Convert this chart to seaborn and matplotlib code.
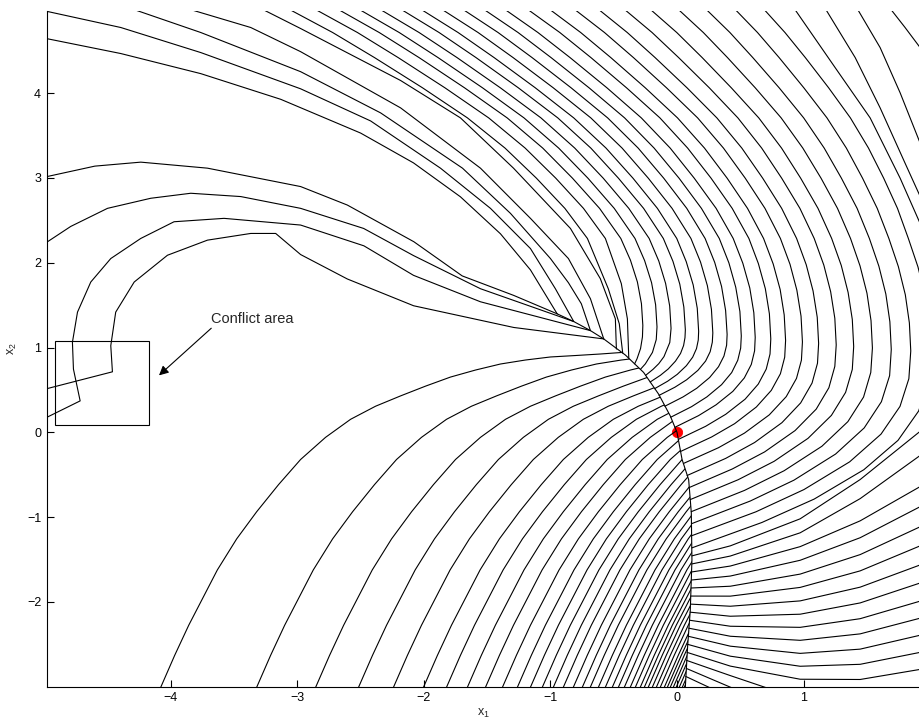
import numpy as np
import pandas as pd
import matplotlib
matplotlib.use("Agg")
import matplotlib.pyplot as plt
import seaborn as sns
from matplotlib.patches import Polygon, Rectangle

sns.set_theme(style="white")
plt.rcParams["font.family"] = ["Liberation Sans", "DejaVu Sans"]
plt.rcParams["mathtext.default"] = "regular"

# ---- values, in (x1, x2) units ----

# switching curve through the origin
switch_x = [-0.947, -0.816, -0.684, -0.579, -0.408, -0.264, -0.145, -0.053, 0.0,
            0.04, 0.092, 0.113, 0.118, 0.105, 0.084, 0.066]
switch_y = [1.398, 1.307, 1.200, 1.102, 0.912, 0.707, 0.450, 0.193, 0.0,
            -0.32, -0.557, -0.948, -1.505, -2.097, -2.52, -3.0]

# outermost lower-left trajectory; the others are the same curve moved along x1
left_template_x = [-4.079, -3.969, -3.858, -3.632, -3.479, -3.321, -3.148, -2.974,
                   -2.777, -2.579, -2.382, -2.184, -1.987, -1.790, -1.592, -1.395,
                   -1.198, -1.000, -0.803, -0.606, -0.448, -0.290]
left_template_y = [-3.006, -2.630, -2.275, -1.623, -1.256, -0.936, -0.616, -0.320,
                   -0.059, 0.154, 0.308, 0.430, 0.545, 0.652, 0.735, 0.806,
                   0.853, 0.889, 0.906, 0.924, 0.941, 0.954]

# where each lower-left trajectory leaves the bottom edge
left_bottom_x = [-4.079, -3.321, -2.855, -2.516, -2.240, -2.003, -1.821, -1.656,
                 -1.513, -1.379, -1.261, -1.158, -1.064, -0.977, -0.898, -0.819,
                 -0.748, -0.685, -0.621, -0.566, -0.511, -0.463, -0.416, -0.369,
                 -0.329, -0.290, -0.258, -0.227, -0.195, -0.163, -0.132, -0.100,
                 -0.076, -0.053, -0.029, -0.006, 0.018, 0.042, 0.058]

# upper-left trajectories (with the kinks)
ul_a_x = [-4.974, -4.60, -4.237, -3.710, -2.974, -2.605, -2.079, -1.697, -1.290, -0.947]
ul_a_y = [3.018, 3.140, 3.187, 3.116, 2.899, 2.681, 2.248, 1.845, 1.615, 1.398]
ul_b_x = [-4.974, -4.79, -4.500, -4.158, -3.842, -3.447, -2.974, -2.476, -2.082, -1.553, -0.816]
ul_b_y = [2.248, 2.429, 2.642, 2.761, 2.820, 2.781, 2.642, 2.405, 2.085, 1.694, 1.307]
ul_c_x = [-4.974, -4.716, -4.769, -4.777, -4.737, -4.632, -4.474, -4.237, -3.974,
          -3.579, -2.974, -2.474, -2.082, -1.553, -0.684]
ul_c_y = [0.181, 0.371, 0.746, 1.063, 1.418, 1.773, 2.050, 2.287, 2.484,
          2.524, 2.445, 2.200, 1.852, 1.540, 1.200]
ul_d_x = [-4.974, -4.461, -4.474, -4.435, -4.289, -4.026, -3.710, -3.368, -3.171,
          -2.974, -2.605, -2.081, -1.290, -0.579]
ul_d_y = [0.517, 0.714, 1.022, 1.418, 1.773, 2.089, 2.267, 2.346, 2.346,
          2.097, 1.809, 1.493, 1.237, 1.102]

# right-hand trajectories that end on the top of the switching curve
r1_x = [-4.974, -4.395, -3.763, -3.131, -2.500, -2.082, -1.711, -1.395, -1.158, -0.947]
r1_y = [4.642, 4.468, 4.231, 3.928, 3.530, 3.178, 2.778, 2.342, 1.916, 1.398]
r2_x = [-4.974, -4.395, -3.762, -2.974, -2.421, -1.869, -1.474, -1.158, -0.961, -0.816]
r2_y = [4.964, 4.775, 4.479, 4.052, 3.673, 3.116, 2.642, 2.168, 1.694, 1.307]
r3_x = [-4.316, -3.763, -2.974, -2.342, -1.695, -1.316, -1.000, -0.858, -0.756, -0.684]
r3_y = [5.0, 4.716, 4.254, 3.768, 3.116, 2.583, 2.050, 1.765, 1.517, 1.200]
r4_x = [-3.874, -3.368, -2.974, -2.184, -1.553, -1.158, -0.858, -0.684, -0.579]
r4_y = [5.0, 4.775, 4.490, 3.827, 3.116, 2.524, 2.050, 1.576, 1.102]
r5_x = [-3.289, -2.974, -2.184, -1.711, -1.292, -0.842, -0.606, -0.487, -0.479]
r5_y = [5.0, 4.763, 4.150, 3.709, 3.116, 2.405, 1.813, 1.339, 0.983]

# ")"-shaped trajectories: x read on nine horizontal scan lines ...
arc_scan_y = [5.0, 4.716, 4.420, 4.064, 3.709, 3.353, 2.998, 2.642, 2.287]
arc_scan_x = [
    [-3.077, -2.721, -2.390, -2.011, -1.656, -1.359, -1.111, -0.886, -0.708],
    [-2.871, -2.525, -2.203, -1.834, -1.488, -1.200, -0.958, -0.739, -0.566],
    [-2.690, -2.353, -2.038, -1.679, -1.342, -1.061, -0.826, -0.612, -0.444],
    [-2.524, -2.195, -1.888, -1.537, -1.209, -0.935, -0.704, -0.496, -0.332],
    [-2.358, -2.038, -1.738, -1.396, -1.075, -0.808, -0.583, -0.381, -0.220],
    [-2.192, -1.880, -1.588, -1.254, -0.942, -0.681, -0.463, -0.264, -0.108],
    [-2.034, -1.730, -1.445, -1.120, -0.816, -0.561, -0.348, -0.155, -0.002],
    [-1.869, -1.572, -1.295, -0.978, -0.681, -0.434, -0.227, -0.039, 0.110],
    [-1.703, -1.414, -1.145, -0.837, -0.548, -0.307, -0.105, 0.077, 0.222],
    [-1.537, -1.256, -0.995, -0.695, -0.414, -0.181, 0.016, 0.193, 0.334],
    [-1.371, -1.099, -0.845, -0.554, -0.282, -0.054, 0.136, 0.309, 0.444],
    [-1.190, -0.926, -0.680, -0.399, -0.135, 0.084, 0.269, 0.436, 0.568],
    [-1.016, -0.761, -0.523, -0.251, 0.004, 0.217, 0.396, 0.557, 0.684],
    [-0.819, -0.573, -0.344, -0.083, 0.163, 0.367, 0.539, 0.695, 0.817],
    [-0.629, -0.393, -0.173, 0.079, 0.315, 0.512, 0.677, 0.827, 0.945],
    [-0.424, -0.197, 0.013, 0.255, 0.481, 0.669, 0.827, 0.971, 1.084],
    [-0.219, -0.002, 0.199, 0.429, 0.646, 0.826, 0.977, 1.114, 1.222],
    [0.002, 0.208, 0.399, 0.618, 0.823, 0.994, 1.138, 1.268, 1.371],
    [0.223, 0.418, 0.599, 0.807, 1.001, 1.163, 1.299, 1.423, 1.520],
    [0.452, 0.636, 0.807, 1.002, 1.185, 1.338, 1.466, 1.582, 1.674],
    [0.681, 0.853, 1.014, 1.198, 1.370, 1.513, 1.633, 1.742, 1.828],
]
# ... and the rest of each arc, round its rightmost point, down to the switching curve
arc_low_x = [
    [-0.543, -0.456, -0.429],
    [-0.440, -0.392, -0.381],
    [-0.368, -0.313, -0.281, -0.270, -0.273, -0.288, -0.316, -0.335],
    [-0.256, -0.201, -0.169, -0.158, -0.164, -0.194, -0.250, -0.289],
    [-0.144, -0.090, -0.058, -0.047, -0.057, -0.103, -0.144, -0.189, -0.248],
    [-0.032, 0.022, 0.054, 0.066, 0.063, 0.052, 0.028, -0.012, -0.069, -0.131, -0.212],
    [0.073, 0.128, 0.160, 0.171, 0.168, 0.154, 0.124, 0.074, 0.002, -0.074, -0.177],
    [0.186, 0.240, 0.272, 0.283, 0.279, 0.262, 0.226, 0.165, 0.076, -0.017, -0.142],
    [0.298, 0.352, 0.384, 0.396, 0.392, 0.371, 0.328, 0.258, 0.156, 0.048, -0.096],
    [0.410, 0.464, 0.497, 0.508, 0.503, 0.480, 0.432, 0.352, 0.236, 0.114, -0.050],
    [0.520, 0.575, 0.607, 0.618, 0.613, 0.587, 0.532, 0.441, 0.309, 0.170, -0.017],
    [0.643, 0.698, 0.730, 0.741, 0.735, 0.705, 0.642, 0.538, 0.385, 0.226, 0.011],
    [0.760, 0.815, 0.847, 0.858, 0.851, 0.817, 0.745, 0.627, 0.455, 0.273, 0.029],
    [0.893, 0.947, 0.980, 0.991, 0.983, 0.944, 0.863, 0.729, 0.533, 0.328, 0.051],
    [1.021, 1.075, 1.108, 1.119, 1.110, 1.067, 0.977, 0.829, 0.613, 0.385, 0.080],
    [1.160, 1.214, 1.247, 1.258, 1.247, 1.200, 1.100, 0.933, 0.692, 0.437, 0.095],
    [1.298, 1.352, 1.385, 1.396, 1.385, 1.332, 1.220, 1.035, 0.767, 0.483, 0.103],
    [1.446, 1.501, 1.533, 1.544, 1.531, 1.474, 1.350, 1.145, 0.846, 0.533, 0.112],
    [1.595, 1.650, 1.682, 1.693, 1.680, 1.615, 1.479, 1.253, 0.924, 0.579, 0.114],
    [1.749, 1.804, 1.836, 1.847, 1.832, 1.762, 1.612, 1.364, 1.003, 0.624, 0.115],
    [1.904, 1.921],
]
arc_low_y = [
    [1.694, 1.280, 0.935],
    [1.754, 1.339, 0.873],
    [2.031, 1.774, 1.518, 1.262, 1.126, 0.989, 0.867, 0.808],
    [2.026, 1.765, 1.505, 1.244, 1.094, 0.943, 0.808, 0.743],
    [2.021, 1.756, 1.492, 1.226, 1.060, 0.893, 0.810, 0.744, 0.672],
    [2.017, 1.748, 1.478, 1.209, 1.116, 1.024, 0.931, 0.840, 0.748, 0.673, 0.594],
    [2.013, 1.738, 1.464, 1.191, 1.089, 0.988, 0.887, 0.786, 0.684, 0.603, 0.515],
    [2.008, 1.730, 1.451, 1.173, 1.063, 0.951, 0.841, 0.731, 0.620, 0.532, 0.436],
    [2.004, 1.721, 1.438, 1.155, 1.028, 0.900, 0.774, 0.647, 0.520, 0.418, 0.308],
    [1.999, 1.712, 1.425, 1.137, 0.993, 0.850, 0.705, 0.562, 0.418, 0.302, 0.178],
    [1.995, 1.703, 1.411, 1.120, 0.961, 0.801, 0.642, 0.483, 0.325, 0.197, 0.059],
    [1.990, 1.694, 1.398, 1.102, 0.924, 0.746, 0.569, 0.391, 0.213, 0.071, -0.083],
    [1.986, 1.685, 1.385, 1.084, 0.887, 0.691, 0.495, 0.299, 0.102, -0.055, -0.225],
    [1.982, 1.677, 1.371, 1.066, 0.851, 0.636, 0.421, 0.206, -0.009, -0.181, -0.367],
    [1.977, 1.668, 1.358, 1.049, 0.815, 0.581, 0.347, 0.114, -0.120, -0.307, -0.509],
    [1.973, 1.659, 1.345, 1.031, 0.778, 0.526, 0.274, 0.021, -0.231, -0.432, -0.652],
    [1.968, 1.650, 1.332, 1.013, 0.742, 0.471, 0.200, -0.071, -0.342, -0.559, -0.794],
    [1.964, 1.641, 1.318, 0.995, 0.706, 0.416, 0.126, -0.164, -0.453, -0.685, -0.936],
    [1.960, 1.632, 1.304, 0.977, 0.669, 0.361, 0.052, -0.256, -0.564, -0.810, -1.078],
    [1.955, 1.623, 1.291, 0.960, 0.633, 0.306, -0.021, -0.348, -0.675, -0.937, -1.220],
    [1.951, 1.848],
]

# pieces that leave through the top-right corner
corner_x = [[0.926, 1.250, 1.526, 1.763, 1.921],
            [1.171, 1.408, 1.605, 1.802, 1.921],
            [1.423, 1.605, 1.763, 1.921],
            [1.684, 1.802, 1.921]]
corner_y = [[5.0, 4.301, 3.709, 2.998, 2.464],
            [5.0, 4.420, 3.827, 3.175, 2.784],
            [5.0, 4.538, 4.005, 3.412],
            [5.0, 4.775, 4.538]]

# second half of the widest arc that comes back in through the right edge
wide_arc_x = [1.921, 1.909, 1.746, 1.476, 1.084, 0.671, 0.117]
wide_arc_y = [0.304, 0.251, -0.095, -0.441, -0.787, -1.063, -1.363]

# lower trajectories from the switching curve to the right edge:
# start point on the switching curve, then x2 on four vertical scan lines
low_scan_x = [0.421, 0.973, 1.447, 1.921]
low_start_x = [0.118, 0.118, 0.115, 0.113, 0.111, 0.109, 0.107, 0.103, 0.099,
               0.093, 0.088, 0.083, 0.079]
low_start_y = [-1.457, -1.552, -1.647, -1.742, -1.836, -1.931, -2.026, -2.121, -2.216,
               -2.310, -2.405, -2.500, -2.595]
low_scan_y = [
    [-1.339, -1.020, -0.557, 0.012],
    [-1.459, -1.185, -0.782, -0.273],
    [-1.577, -1.348, -1.044, -0.640],
    [-1.695, -1.509, -1.243, -0.877],
    [-1.815, -1.672, -1.442, -1.114],
    [-1.932, -1.829, -1.634, -1.339],
    [-2.051, -1.988, -1.826, -1.564],
    [-2.169, -2.145, -2.012, -1.777],
    [-2.287, -2.300, -2.198, -1.991],
    [-2.405, -2.453, -2.377, -2.192],
    [-2.522, -2.607, -2.557, -2.393],
    [-2.640, -2.759, -2.736, -2.595],
    [-2.757, -2.912, -2.915, -2.796],
]
# the last few run into the bottom edge
bottom_runs_x = [[0.076, 0.421, 0.721],
                 [0.073, 0.444],
                 [0.069, 0.271]]
bottom_runs_y = [[-2.690, -2.869, -3.02],
                 [-2.784, -3.02],
                 [-2.879, -3.02]]

box_x, box_y, box_w, box_h = -4.914, 0.083, 0.743, 0.999
arrow_head = (-4.093, 0.672)
arrow_tail = (-3.68, 1.228)
label_pos = (-3.684, 1.339)


def curves_frame(curves):
    rows = []
    for name, xs, ys in curves:
        for i, (a, b) in enumerate(zip(xs, ys)):
            rows.append({"curve": name, "order": i, "x1": a, "x2": b})
    return pd.DataFrame(rows)


fig = plt.figure(figsize=(9.2, 7.22), dpi=100)
ax = fig.add_axes([0.0508, 0.0489, 0.9492, 0.9359])

line_kw = dict(color="black", linewidth=0.8, estimator=None, sort=False, legend=False)

# lower-left family, clipped on the switching curve
left_curves = []
for k, xb in enumerate(left_bottom_x):
    shift = xb - left_template_x[0]
    left_curves.append((f"L{k}", [v + shift for v in left_template_x], left_template_y))
df_left = curves_frame(left_curves)
n_before = len(ax.lines)
sns.lineplot(data=df_left, x="x1", y="x2", units="curve", ax=ax, **line_kw)
clip_verts = [(-6, switch_y[0])] + list(zip(switch_x, switch_y)) + [(switch_x[-1], -4), (-6, -4)]
clip_poly = Polygon(clip_verts, closed=True, transform=ax.transData)
for ln in ax.lines[n_before:]:
    ln.set_clip_path(clip_poly)

other = [("S", switch_x, switch_y),
         ("UA", ul_a_x, ul_a_y), ("UB", ul_b_x, ul_b_y),
         ("UC", ul_c_x, ul_c_y), ("UD", ul_d_x, ul_d_y),
         ("R1", r1_x, r1_y), ("R2", r2_x, r2_y), ("R3", r3_x, r3_y),
         ("R4", r4_x, r4_y), ("R5", r5_x, r5_y),
         ("W", wide_arc_x, wide_arc_y)]
for i, (sx, lx, ly) in enumerate(zip(arc_scan_x, arc_low_x, arc_low_y)):
    other.append((f"A{i}", sx + lx, arc_scan_y + ly))
for i, (cx, cy) in enumerate(zip(corner_x, corner_y)):
    other.append((f"C{i}", cx, cy))
for i, (x0, y0, ys) in enumerate(zip(low_start_x, low_start_y, low_scan_y)):
    other.append((f"B{i}", [x0] + low_scan_x, [y0] + ys))
for i, (bx, by) in enumerate(zip(bottom_runs_x, bottom_runs_y)):
    other.append((f"D{i}", bx, by))
df_other = curves_frame(other)
sns.lineplot(data=df_other, x="x1", y="x2", units="curve", ax=ax, **line_kw)

sns.scatterplot(x=[0.0], y=[0.0], color="red", edgecolor="red", s=55, ax=ax, zorder=1, legend=False)

ax.add_patch(Rectangle((box_x, box_y), box_w, box_h, fill=False, edgecolor="black", linewidth=0.8))
ax.annotate("", xy=arrow_head, xytext=arrow_tail,
            arrowprops=dict(arrowstyle="-|>", color="black", lw=0.8, mutation_scale=14,
                            shrinkA=0, shrinkB=0))
ax.text(label_pos[0], label_pos[1], "Conflict area", fontsize=10.5, va="center", ha="left")

ax.set_xlim(-4.98, 1.92)
ax.set_ylim(-3.0, 4.97)
ax.set_xticks([-4, -3, -2, -1, 0, 1])
ax.set_yticks([-2, -1, 0, 1, 2, 3, 4])
ax.tick_params(direction="in", length=5, width=0.8, labelsize=9, colors="black",
               left=True, bottom=True, pad=4)
for side in ["top", "right"]:
    ax.spines[side].set_visible(False)
for side in ["left", "bottom"]:
    ax.spines[side].set_color("black")
    ax.spines[side].set_linewidth(0.8)
ax.set_xlabel("x$_1$", fontsize=9, labelpad=2)
ax.set_ylabel("x$_2$", fontsize=9, labelpad=6)

fig.savefig("out.png", dpi=100)
